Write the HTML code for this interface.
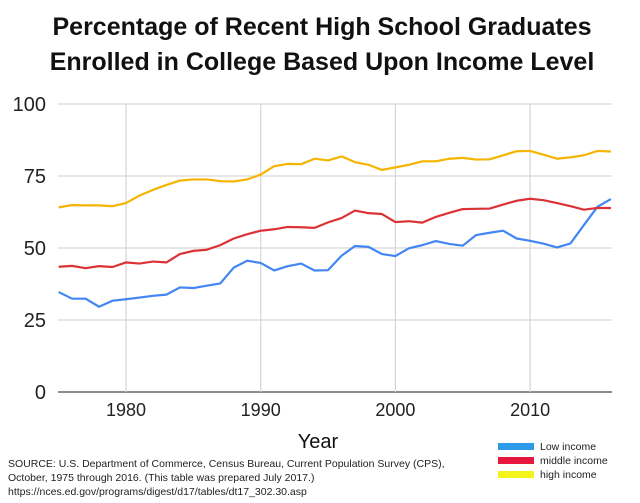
<!DOCTYPE html>
<html><head><meta charset="utf-8"><style>
body{margin:0;background:#fff;width:640px;height:503px;overflow:hidden;font-family:"Liberation Sans","DejaVu Sans",sans-serif}
</style></head><body>
<svg width="640" height="503" id="c" style="position:absolute;left:0;top:0">
<text x="322" y="35" text-anchor="middle" font-size="25" font-weight="bold" fill="#111">Percentage of Recent High School Graduates</text>
<text x="322" y="70" text-anchor="middle" font-size="25" font-weight="bold" fill="#111">Enrolled in College Based Upon Income Level</text>
<g id="grid"></g><g id="series"></g>
<text x="318" y="448" text-anchor="middle" font-size="20" fill="#111">Year</text>
<text x="8" y="467" font-size="10.5" fill="#222">SOURCE: U.S. Department of Commerce, Census Bureau, Current Population Survey (CPS),</text>
<text x="8" y="481" font-size="10.5" fill="#222">October, 1975 through 2016. (This table was prepared July 2017.)</text>
<text x="8" y="495" font-size="10.5" fill="#222">https://nces.ed.gov/programs/digest/d17/tables/dt17_302.30.asp</text>
<g>
<rect x="498" y="443" width="36" height="7" fill="#2e9be8"/>
<text x="540" y="450" font-size="10.5" fill="#222">Low income</text>
<rect x="498" y="457" width="36" height="7" fill="#e8173e"/>
<text x="540" y="464" font-size="10.5" fill="#222">middle income</text>
<rect x="498" y="471" width="36" height="7" fill="#f4f41a"/>
<text x="540" y="478" font-size="10.5" fill="#222">high income</text>
</g>
</svg>
<script>
const years=[];for(let y=1975;y<=2016;y++)years.push(y);
const lowIncome=[34.7,32.4,32.4,29.6,31.7,32.2,32.8,33.4,33.8,36.3,36.1,36.9,37.7,43.2,45.6,44.8,42.2,43.7,44.6,42.2,42.3,47.3,50.7,50.4,47.9,47.2,49.9,51.0,52.4,51.4,50.8,54.5,55.3,56.0,53.3,52.5,51.5,50.2,51.6,58.0,64.3,67.0];
const middleIncome=[43.5,43.8,43.0,43.7,43.4,45.0,44.6,45.3,45.0,47.9,49.0,49.4,51.0,53.3,54.8,56.0,56.5,57.3,57.2,57.0,58.9,60.4,63.0,62.1,61.8,59.0,59.3,58.8,60.8,62.2,63.5,63.6,63.7,65.1,66.4,67.1,66.6,65.6,64.5,63.3,63.9,63.9];
const highIncome=[64.1,64.9,64.8,64.8,64.5,65.6,68.2,70.2,71.9,73.4,73.8,73.8,73.2,73.1,73.8,75.5,78.4,79.2,79.1,81.0,80.4,81.8,79.8,78.9,77.1,78.0,78.9,80.1,80.1,81.0,81.3,80.7,80.8,82.2,83.6,83.7,82.4,81.0,81.5,82.2,83.7,83.5];
const yTicks=[0,25,50,75,100];
const xTicks=[1980,1990,2000,2010];
const NS="http://www.w3.org/2000/svg";
const X=y=>126+(y-1980)*13.47;
const Y=v=>392-v*2.88;
const L=58,R=612;
const grid=document.getElementById('grid'),ser=document.getElementById('series');
function mk(tag,attrs,parent){const e=document.createElementNS(NS,tag);for(const k in attrs)e.setAttribute(k,attrs[k]);parent.appendChild(e);return e;}
yTicks.forEach(t=>{
  const l=mk('line',{x1:L,x2:R,y1:Y(t),y2:Y(t),stroke:t===0?'#666':'#d6d6d6','stroke-width':t===0?1.5:1.2},grid);
  
  
  const tx=mk('text',{x:46,y:Y(t)+7,'text-anchor':'end','font-size':20,fill:'#222'},grid);
  tx.textContent=t;
  
  
});
xTicks.forEach(t=>{
  const l=mk('line',{x1:X(t),x2:X(t),y1:Y(100),y2:Y(0),stroke:'#d6d6d6','stroke-width':1.2},grid);
  
  
  const tx=mk('text',{x:X(t),y:416,'text-anchor':'middle','font-size':18,fill:'#222'},grid);
  tx.textContent=t;
  
  
});
[[lowIncome,'#4285f4','line-low-income'],[middleIncome,'#db3236','line-middle-income'],[highIncome,'#f4b400','line-high-income']].forEach(([d,c,n])=>{
  const p=mk('polyline',{points:d.map((v,i)=>X(years[i])+','+Y(v)).join(' '),fill:'none',stroke:c,'stroke-width':2.2,'stroke-linejoin':'round'},ser);
  
  
});
</script>
</body></html>
